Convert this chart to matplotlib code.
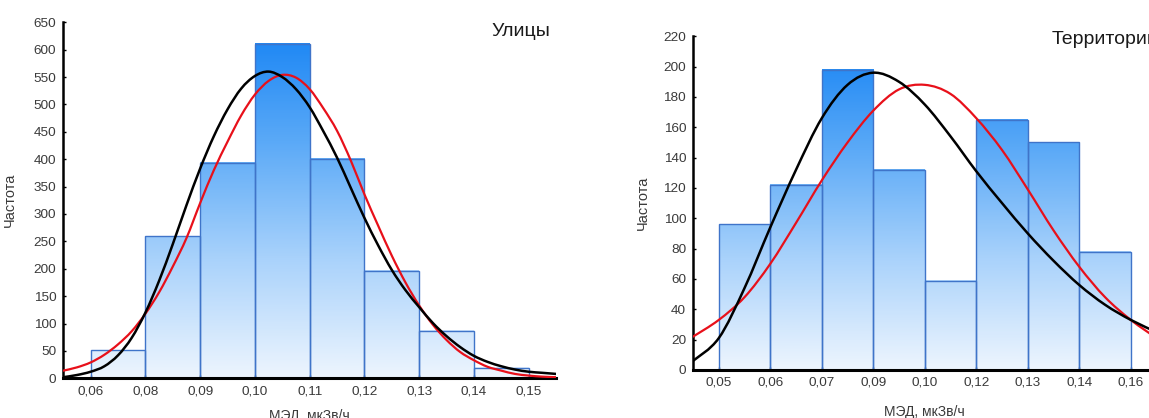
import numpy as np
import matplotlib
matplotlib.use("Agg")
import matplotlib.pyplot as plt
from matplotlib.path import Path
from matplotlib.patches import PathPatch
from matplotlib.colors import LinearSegmentedColormap

plt.rcParams['font.family'] = ['Liberation Sans', 'DejaVu Sans']

# ---------------- data: "Улицы" ----------------
streets_ticks = ['0,06', '0,08', '0,09', '0,10', '0,11', '0,12', '0,13', '0,14', '0,15']
streets_counts = [51, 259, 394, 610, 401, 196, 86, 19]
streets_curve_x = [-0.5, -0.25, 0, 0.25, 0.5, 0.75, 1, 1.25, 1.5, 1.75, 2, 2.25, 2.5,
                   2.75, 3, 3.25, 3.5, 3.75, 4, 4.25, 4.5, 4.75, 5, 5.25, 5.5, 5.75,
                   6, 6.25, 6.5, 6.75, 7, 7.25, 7.5, 7.75, 8, 8.25, 8.5]
streets_black = [2, 6, 12, 22, 42, 74, 120, 178, 245, 316, 383, 442, 491,
                 529, 552, 560, 550, 528, 495, 451, 403, 348, 293, 243, 198, 161,
                 130, 101, 77, 57, 41, 30, 22, 16, 12, 10, 8]
streets_red = [14, 20, 29, 43, 62, 86, 118, 157, 204, 256, 320, 380, 432,
               480, 518, 543, 554, 549, 528, 493, 452, 398, 336, 279, 224, 175,
               133, 98, 70, 48, 33, 21, 14, 8, 5, 3, 2]

# ---------------- data: "Территории" ----------------
terr_ticks = ['0,05', '0,06', '0,07', '0,09', '0,10', '0,12', '0,13', '0,14', '0,16']
terr_counts = [96, 122, 198, 132, 59, 165, 150, 78]
terr_curve_x = [-0.5, 0, 0.5, 1, 1.5, 2, 2.5, 3, 3.5, 4, 4.5, 5, 5.5, 6, 6.5, 7, 7.5, 8, 8.5]
terr_black = [6, 21, 54, 94, 132, 166, 188, 196, 190, 175, 154, 131, 110, 90, 72, 56, 43, 33, 25]
terr_red = [22, 33, 48, 70, 97, 125, 150, 171, 185, 188, 182, 166, 145, 119, 92, 68, 48, 33, 21]

grad_cmap = LinearSegmentedColormap.from_list(
    'g', ['#edf5fe', '#a9d2fb', '#5aa9f7', '#1482f4'])


def smooth_path(xs, ys):
    pts = np.column_stack([xs, ys]).astype(float)
    n = len(pts)
    verts = [pts[0]]
    codes = [Path.MOVETO]
    for i in range(n - 1):
        p0 = pts[i - 1] if i > 0 else pts[i]
        p1 = pts[i]
        p2 = pts[i + 1]
        p3 = pts[i + 2] if i + 2 < n else pts[i + 1]
        c1 = p1 + (p2 - p0) / 6.0
        c2 = p2 - (p3 - p1) / 6.0
        verts += [c1, c2, p2]
        codes += [Path.CURVE4] * 3
    return Path(verts, codes)


def draw(ax, counts, ticks, cx, black, red, ymax, ystep, xmax):
    for i, h in enumerate(counts):
        g = np.linspace(h / ymax, 0, 200).reshape(-1, 1)
        ax.imshow(g, extent=(i, i + 1, 0, h), aspect='auto', cmap=grad_cmap,
                  vmin=0, vmax=1, interpolation='bilinear', zorder=1)
    ax.bar(np.arange(len(counts)), counts, width=1, align='edge', fill=False,
           edgecolor='#3f74c9', linewidth=1.0, zorder=2)
    ax.add_patch(PathPatch(smooth_path(cx, black), fill=False, edgecolor='black',
                           linewidth=1.8, zorder=4, capstyle='round'))
    ax.add_patch(PathPatch(smooth_path(cx, red), fill=False, edgecolor='#e8101a',
                           linewidth=1.6, zorder=3, capstyle='round'))
    ax.set_xlim(-0.5, xmax)
    ax.set_ylim(0, ymax)
    ax.set_xticks(np.arange(len(ticks)))
    ax.set_xticklabels(ticks)
    ax.set_yticks(np.arange(0, ymax + 1, ystep))
    for s in ['top', 'right']:
        ax.spines[s].set_visible(False)
    ax.spines['left'].set_linewidth(1.8)
    ax.spines['bottom'].set_linewidth(2.2)
    ax.tick_params(axis='both', direction='in', length=2, width=1,
                   labelsize=9.7, labelcolor='#3a3a3a', pad=5)
    ax.set_ylabel('Частота', fontsize=10.5, color='#3a3a3a')
    ax.set_xlabel('МЭД, мкЗв/ч', fontsize=10, color='#3a3a3a')


W, H = 1149, 418
fig = plt.figure(figsize=(W / 100, H / 100), dpi=100)

ax1 = fig.add_axes([63.3 / W, (H - 378.3) / H, (556 - 63.3) / W, (378.3 - 22.3) / H])
draw(ax1, streets_counts, streets_ticks, streets_curve_x, streets_black, streets_red,
     650, 50, 8.5)
ax1.yaxis.set_label_coords(-0.094, 0.5)
ax1.xaxis.set_label_coords(0.5, -0.085)

ax2 = fig.add_axes([693 / W, (H - 370) / H, (1156.6 - 693) / W, (370 - 36.3) / H])
draw(ax2, terr_counts, terr_ticks, terr_curve_x, terr_black, terr_red, 220, 20, 8.5)
ax2.yaxis.set_label_coords(-0.093, 0.5)
ax2.xaxis.set_label_coords(0.5, -0.105)

fig.text(550 / W, 1 - 31.5 / H, 'Улицы', ha='right', va='center', fontsize=14,
         color='#1a1a1a')
fig.text(1052 / W, 1 - 40 / H, 'Территории', ha='left', va='center', fontsize=14,
         color='#1a1a1a')

fig.savefig('out.png', dpi=100)
